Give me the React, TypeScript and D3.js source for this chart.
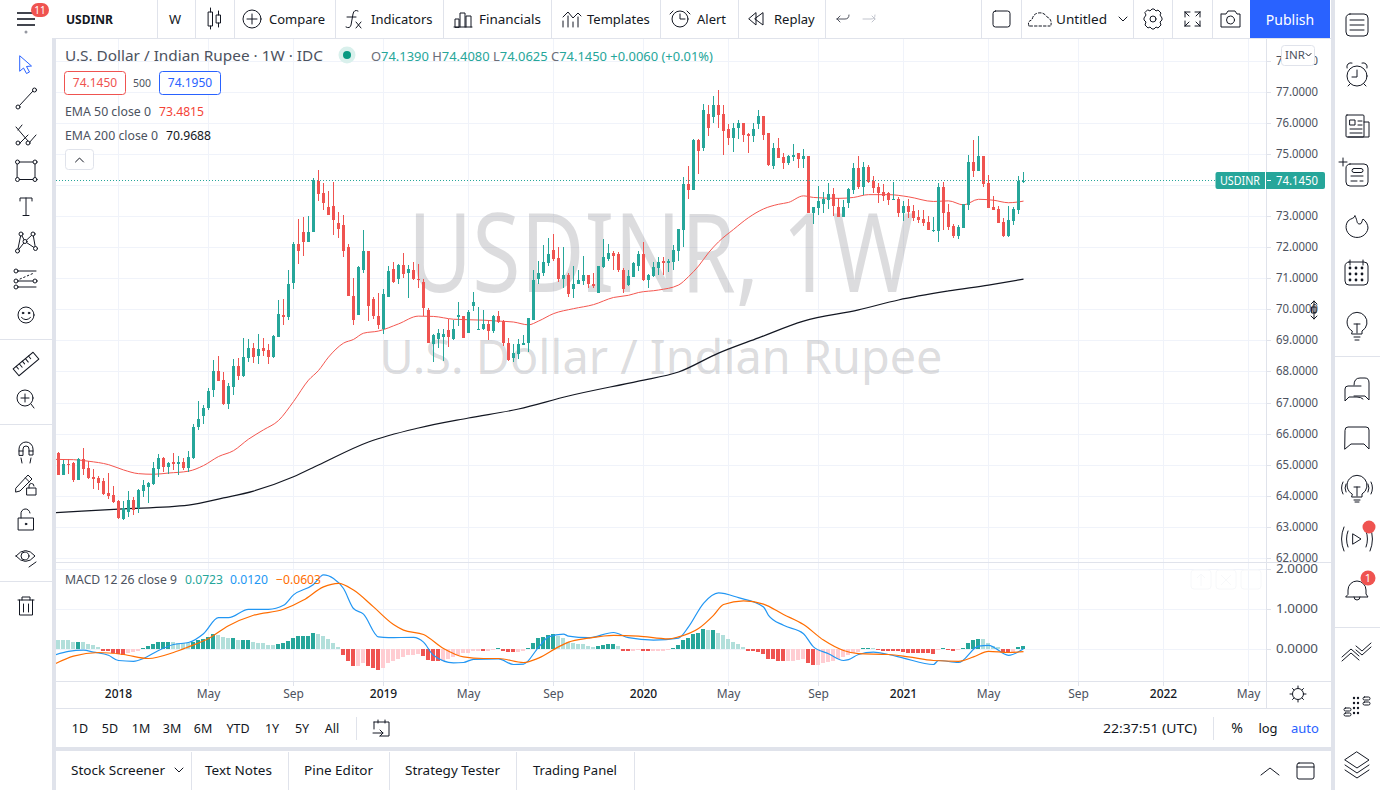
import React from 'react';
import * as d3 from 'd3';

const opens = [65.37,64.67,65.03,65.06,64.51,65.17,64.90,64.61,64.57,64.48,64.09,64.03,63.83,63.26,63.48,63.87,63.60,64.16,64.28,64.38,64.86,65.22,64.93,65.09,65.02,65.09,64.90,65.22,66.21,66.57,66.83,67.40,68.02,67.73,66.95,67.50,68.18,67.85,68.43,68.75,68.50,68.75,68.69,68.47,69.11,69.83,69.74,70.86,72.09,72.50,72.15,72.50,74.12,73.73,73.28,73.34,72.79,72.70,71.99,70.44,69.83,71.28,71.89,70.32,69.77,69.38,70.41,71.31,70.96,71.44,71.18,71.28,70.99,70.89,69.99,68.87,69.03,69.12,69.32,69.03,69.74,69.77,69.25,70.12,69.32,69.35,69.54,69.29,69.80,69.61,68.93,68.42,68.55,68.84,68.93,69.67,70.99,71.16,71.48,71.90,71.64,70.99,71.09,70.64,70.80,70.90,71.09,70.83,70.54,71.35,71.61,71.80,71.77,71.28,70.77,71.03,71.38,71.77,70.93,71.06,71.32,71.57,71.48,71.51,71.86,72.54,74.02,73.83,75.44,75.18,76.27,76.18,76.56,76.27,75.79,75.50,75.82,75.98,75.63,75.57,75.95,76.21,75.66,74.61,75.19,74.90,74.71,74.90,75.03,74.83,74.93,73.10,73.26,73.39,73.51,73.71,73.29,72.97,73.42,73.84,74.54,73.93,74.58,74.13,73.93,73.77,73.74,73.51,73.55,73.10,73.32,73.16,72.97,72.90,72.81,72.52,72.52,73.93,73.13,72.68,72.36,72.62,73.35,74.74,74.45,74.93,74.06,73.29,73.23,72.81,72.36,72.84,73.19,74.139];
const highs = [65.40,65.15,65.17,65.07,65.21,65.54,65.11,64.86,64.64,64.58,64.73,64.32,63.87,63.84,64.16,63.97,64.22,64.51,64.45,65.09,65.35,65.25,65.09,65.38,65.28,65.22,65.43,66.31,67.05,66.92,67.47,68.37,68.50,67.98,67.63,68.40,68.43,69.08,69.04,68.92,69.20,69.08,68.88,69.17,70.30,70.32,71.25,72.15,72.89,72.96,72.99,74.24,74.47,74.05,73.82,74.11,73.12,73.05,72.09,71.02,71.38,72.54,71.89,70.38,70.51,70.64,71.38,71.51,71.47,71.80,71.41,71.51,71.47,70.96,70.03,69.19,69.35,69.35,69.70,69.67,70.25,69.77,69.99,70.57,70.06,69.99,69.64,69.83,69.96,69.64,69.06,68.87,69.03,69.16,69.71,71.25,71.54,72.06,72.28,72.41,71.99,71.99,71.16,71.38,71.25,71.73,71.09,71.16,71.38,72.25,72.09,71.86,71.83,71.32,71.28,71.51,71.86,72.15,71.12,71.51,71.67,71.67,71.61,72.06,72.60,74.25,74.60,75.47,75.47,76.60,76.56,76.88,77.05,76.56,75.95,75.98,76.08,75.98,75.66,75.98,76.43,76.21,75.66,75.35,75.51,75.03,74.96,75.32,75.03,75.16,74.93,73.29,73.97,73.77,74.06,73.90,73.58,73.51,73.90,74.71,74.93,74.74,74.64,74.29,74.06,74.03,73.77,74.09,73.61,73.48,73.55,73.35,73.19,73.19,73.00,72.97,74.06,74.09,73.39,72.74,72.71,73.39,74.96,75.45,75.57,74.93,74.32,73.64,73.32,72.93,73.32,73.29,74.29,74.408];
const lows = [64.68,64.67,64.70,64.45,64.51,64.67,64.54,64.21,64.19,64.01,63.90,63.76,63.26,63.22,63.32,63.38,63.45,63.96,63.77,64.35,64.61,64.77,64.69,64.83,64.67,64.83,64.77,65.18,66.12,66.31,66.76,67.18,67.69,66.92,66.79,67.24,67.73,67.82,68.30,68.27,68.24,68.50,68.24,68.43,69.11,69.48,69.67,70.64,71.47,71.70,72.15,72.50,73.47,73.21,73.02,72.38,72.31,71.67,70.44,69.51,69.83,71.18,69.61,69.70,69.38,69.19,70.41,70.86,70.83,71.02,70.35,70.93,70.67,69.77,68.90,68.29,68.74,68.35,68.80,69.00,69.45,69.09,69.25,69.96,69.32,69.32,69.00,69.25,69.55,68.83,68.35,68.29,68.39,68.84,68.64,69.67,70.83,71.06,71.38,71.57,70.87,70.67,70.38,70.35,70.80,70.77,70.70,70.67,70.54,71.32,71.57,71.28,71.19,70.51,70.74,71.03,71.22,70.90,70.67,71.03,71.09,71.09,71.19,71.25,71.54,72.02,73.54,73.83,74.34,75.08,75.57,75.98,75.85,74.95,75.28,75.05,75.47,75.40,75.02,75.40,75.79,75.44,74.60,74.51,74.87,74.51,74.64,74.77,74.54,74.54,73.10,72.74,73.03,73.10,73.23,73.00,72.97,72.97,73.26,73.71,73.87,73.68,74.06,73.74,73.42,73.48,73.35,73.51,72.97,72.84,72.93,72.84,72.77,72.67,72.55,72.48,72.16,72.55,72.55,72.29,72.26,72.62,73.19,74.26,74.45,73.93,73.26,73.19,72.77,72.32,72.32,72.71,73.06,74.0625];
const closes = [64.68,65.02,64.99,64.51,65.17,64.86,64.57,64.54,64.42,64.06,64.00,63.80,63.29,63.61,63.87,63.54,64.19,64.35,64.41,64.90,65.22,64.93,65.06,65.02,65.09,64.90,65.25,66.21,66.47,66.83,67.37,68.02,67.69,66.95,67.53,68.18,67.85,68.47,68.75,68.47,68.72,68.66,68.47,69.14,69.85,69.74,70.80,72.09,71.89,72.18,72.50,74.15,73.70,73.41,73.05,72.86,72.60,71.86,70.44,69.64,71.35,71.89,70.09,69.77,69.48,70.48,71.22,70.89,71.44,71.12,71.31,70.96,70.96,70.03,68.93,69.16,69.25,69.19,69.12,69.35,69.83,69.09,69.90,70.25,69.35,69.54,69.29,69.80,69.58,68.90,68.38,68.58,68.87,68.90,69.71,70.93,71.16,71.51,71.77,71.61,70.99,71.09,70.48,70.83,70.93,71.09,70.80,70.74,71.38,71.67,71.80,71.73,71.25,70.64,71.06,71.48,71.77,70.93,71.09,71.35,71.51,71.48,71.54,71.90,72.57,74.02,73.83,75.44,75.11,76.43,75.85,76.56,76.24,75.73,75.50,75.85,75.98,75.60,75.57,75.79,76.21,75.60,74.63,75.19,74.87,74.71,74.93,74.96,74.83,74.93,73.10,73.29,73.48,73.55,73.71,73.32,72.97,73.29,73.87,74.54,73.93,74.58,74.09,73.90,73.74,73.64,73.51,73.55,73.10,73.32,73.13,72.93,72.87,72.77,72.55,72.55,73.93,73.10,72.65,72.36,72.65,73.39,74.74,74.45,74.93,74.03,73.26,73.19,72.77,72.36,72.87,73.23,74.13,74.145];

const ema50Weeks = [-1,3,6,10,13,16,19,22,26,29,32,35,38,41,44,47,50,52,54,57,59,61,64,68,72,75,79,85,88,91,94,96,99,103,107,111,114,116,120,124,126,128,130,132,135,138,141,144,146,149,151,156,159,162,166,170,175,178,181,184,187,190,193];
const ema50Values = [65.17,65.16,65.11,65.00,64.83,64.71,64.69,64.73,64.79,64.97,65.26,65.45,65.82,66.12,66.42,67.03,67.72,68.03,68.46,68.91,69.03,69.23,69.30,69.53,69.78,69.77,69.68,69.65,69.62,69.59,69.50,69.62,69.86,70.02,70.15,70.38,70.45,70.54,70.62,70.78,71.05,71.39,71.82,72.17,72.57,72.95,73.23,73.38,73.44,73.65,73.60,73.57,73.60,73.69,73.69,73.62,73.47,73.49,73.36,73.54,73.51,73.43,73.4815];
const ema200Weeks = [-1,12,26,33,39,47,52,62,72,82,92,102,116,124,132,140,149,160,168,178,186,193];
const ema200Values = [63.45,63.57,63.70,63.93,64.15,64.61,64.99,65.73,66.18,66.50,66.79,67.21,67.69,67.98,68.59,69.08,69.62,69.98,70.30,70.59,70.78,70.9688];

const histogram = [.235,.23,.225,.19,.195,.18,.13,.10,.07,-.03,-.04,-.08,-.11,-.13,-.08,-.07,-.03,.03,.08,.13,.18,.185,.19,.18,.17,.165,.16,.19,.23,.27,.32,.38,.37,.30,.28,.285,.23,.235,.24,.19,.17,.15,.12,.10,.13,.15,.20,.29,.33,.335,.34,.40,.39,.33,.25,.15,.05,-.15,-.28,-.42,-.41,-.35,-.42,-.46,-.52,-.46,-.33,-.29,-.23,-.18,-.15,-.13,-.12,-.17,-.27,-.29,-.30,-.28,-.23,-.18,-.13,-.10,-.08,-.04,-.03,-.04,-.03,-.005,.04,-.03,-.06,-.07,-.06,-.04,.04,.17,.28,.32,.37,.375,.33,.28,.18,.15,.13,.125,.08,.05,.08,.10,.13,.135,.08,-.03,-.035,-.03,-.025,-.04,-.05,-.04,-.035,-.03,-.025,.04,.10,.23,.28,.38,.42,.50,.48,.485,.42,.35,.25,.18,.13,.05,-.04,-.05,-.07,-.11,-.23,-.25,-.28,-.30,-.29,-.28,-.275,-.25,-.35,-.40,-.39,-.35,-.32,-.30,-.25,-.20,-.13,-.10,-.07,.04,.045,.04,-.025,-.03,-.04,-.045,-.05,-.06,-.08,-.085,-.09,-.095,-.10,-.12,-.02,.04,-.025,-.03,-.025,.04,.17,.23,.27,.25,.17,.08,.05,-.07,-.075,-.07,.05,.0723];

const macdWeeks = [-1,2,5,7,10,12,15,17,20,23,26,29,32,34,38,42,45,47,51,53,55,57,59,61,64,66,71,73,75,79,81,83,88,91,93,96,98,101,102,106,111,114,119,124,126,129,132,136,141,142,145,149,151,154,157,158,160,163,166,169,175,176,180,184,186,190,193];
const macdValues = [-.15,-.05,-.02,-.07,-.15,-.28,-.30,-.23,-.03,.12,.17,.39,.79,.79,1.00,1.00,1.10,1.36,1.62,1.86,1.77,1.52,1.02,.88,.31,.29,.30,.18,-.15,-.34,-.33,-.25,-.24,-.38,-.37,.05,.31,.38,.33,.29,.42,.29,.23,.28,.56,1.15,1.41,1.29,1.06,.85,.60,.39,.06,-.11,-.28,-.26,-.13,-.07,-.13,-.22,-.38,-.28,-.33,.08,.10,-.15,.012];
const signalWeeks = [-1,3,8,13,18,23,26,30,34,39,45,49,53,56,59,63,67,69,73,77,81,85,88,93,96,100,102,106,111,116,122,124,128,131,133,137,141,145,149,153,157,160,166,170,175,180,183,186,190,193];
const signalValues = [-.38,-.17,-.08,-.13,-.23,-.08,.06,.27,.59,.85,1.00,1.23,1.56,1.65,1.48,1.06,.62,.48,.37,.02,-.19,-.23,-.23,-.33,-.22,.06,.18,.28,.35,.33,.26,.31,.52,.85,1.12,1.21,1.13,.87,.62,.23,-.03,-.11,-.13,-.19,-.28,-.30,-.19,-.05,-.08,-.0603];

const priceTicks = d3.range(62, 79);
const priceLabels = priceTicks.filter((p) => p !== 74);
const macdTicks = [0, 1, 2];
const timeTicks: [number, string][] = [[12,'2018'],[30,'May'],[47,'Sep'],[65,'2019'],[82,'May'],[99,'Sep'],[117,'2020'],[134,'May'],[152,'Sep'],[169,'2021'],[186,'May'],[204,'Sep'],[221,'2022'],[238,'May']];
const ranges: [string, number][] = [['1D',80],['5D',110],['1M',141],['3M',172],['6M',203],['YTD',238],['1Y',272],['5Y',302],['All',332]];
const tabs: [string, number, number][] = [['Stock Screener',71,94],['Text Notes',205,67],['Pine Editor',304,69],['Strategy Tester',405,95],['Trading Panel',533,84]];
const tabSeps = [191,288,389,516,634];
const topSeps = [157,195,234,335,443,551,660,738,825,981,1021,1133,1172,1212];

const UP = '#26a69a', DOWN = '#ef5350', INK = '#131722', LINE = '#e0e3eb', GRID = '#f0f3fa', AXIS = '#4c525e';
const WATERMARK = 'rgba(140,140,145,0.3)';
const FONT = '"Noto Sans", "Open Sans", sans-serif';

const x = d3.scaleLinear().domain([0, 193]).range([58.5, 1023.5]);
const y = d3.scaleLinear().domain([62, 77]).range([557.85, 91.8]);
const m = d3.scaleLinear().domain([0, 2]).range([649.3, 569.3]);

const lineOf = (scale: d3.ScaleLinear<number, number>, weeks: number[], vals: number[]) =>
  d3.line<number>().x((_, i) => x(weeks[i])).y((v) => scale(v)).curve(d3.curveMonotoneX)(vals) as string;

const histColor = (v: number, i: number) => {
  const prev = i > 0 ? histogram[i - 1] : v + 1;
  if (v >= 0) return prev < v ? UP : '#b2dfdb';
  return prev < v ? '#ffcdd2' : DOWN;
};

const T = ({ x: tx, y: ty, s = 13, c = INK, a = 'start', w = 400, children, len }: any) => (
  <text x={tx} y={ty} fontSize={s} fill={c} textAnchor={a} fontWeight={w} fontFamily={FONT}
    {...(len ? { textLength: len, lengthAdjust: 'spacingAndGlyphs' } : {})}>{children}</text>
);

const Ico = ({ children, x: ix = 0, y: iy = 0, c = INK, w = 1 }: any) => (
  <g transform={`translate(${ix},${iy})`} fill="none" stroke={c} strokeWidth={w} strokeLinecap="round" strokeLinejoin="round">{children}</g>
);
const Dot = ({ x: cx, y: cy, r = 2 }: any) => <circle cx={cx} cy={cy} r={r} fill="#fff" />;

function LeftBar() {
  return (
    <g>
      <g stroke={INK} strokeWidth={1.6}>
        <line x1={17} x2={35} y1={13} y2={13} /><line x1={17} x2={35} y1={19} y2={19} /><line x1={17} x2={35} y1={25} y2={25} />
      </g>
      <circle cx={26} cy={32} r={1.5} fill="#9598a1" />
      <rect x={31} y={3} width={18} height={14} rx={7} fill={DOWN} />
      <T x={40} y={14} s={10} c="#fff" a="middle">11</T>
      <Ico c="#2962ff"><path d="M20 56 L31.5 66 L26.5 66.5 L29.5 72 L26.5 73.5 L23.5 68 L20 71 Z" /></Ico>
      <Ico>
        <line x1={19.5} y1={105.5} x2={33} y2={91} /><Dot x={18} y={107} /><Dot x={34.5} y={90} />
        <line x1={16} y1={127} x2={28} y2={141} /><line x1={22} y1={125} x2={18} y2={130} /><line x1={28} y1={135} x2={20} y2={143} /><line x1={36} y1={135} x2={29} y2={143} />
        <Dot x={18} y={143} /><Dot x={28} y={143} />
        <rect x={17.5} y={162} width={17.5} height={17.5} /><Dot x={17.5} y={162} /><Dot x={35} y={162} /><Dot x={17.5} y={179.5} /><Dot x={35} y={179.5} />
        <path d="M20 201 V198 H32 V201 M26 198 V215 M23 215.5 H29" />
        <path d="M21 234 L25 241.5 L33 234 L35.5 248.5 M25 241.5 L35.5 248.5 M21 234 L17.5 251 L25 241.5" />
        <Dot x={21} y={234} /><Dot x={33} y={234} /><Dot x={25} y={241.5} /><Dot x={35.5} y={248.5} /><Dot x={17.5} y={251} />
        <path d="M18 271 H36 M18 281 H33 M18 287 H36" /><path d="M20 279 L34 273" strokeDasharray="1.5 2.5" />
        <Dot x={16} y={271} /><Dot x={16} y={281} /><Dot x={16} y={287} /><Dot x={35} y={281} />
        <circle cx={26} cy={315} r={8} /><circle cx={23} cy={313} r={0.8} fill={INK} /><circle cx={29} cy={313} r={0.8} fill={INK} /><path d="M21.5 317.5 Q26 322 30.5 317.5" />
        <g transform="translate(26,364) rotate(-40)"><rect x={-13} y={-4.5} width={26} height={9} /><path d="M-9 -4.5 V-1 M-5 -4.5 V0 M-1 -4.5 V-1 M3 -4.5 V0 M7 -4.5 V-1" /></g>
        <circle cx={25} cy={398} r={8} /><path d="M31 404 L34 408 M21 398 H29 M25 394 V402" />
        <path d="M19 455 V449 A7 7 0 0 1 33 449 V455 H29 V449 A3 3 0 0 0 23 449 V455 Z M19 451 H23 M29 451 H33 M21 458 L22 463 M31 458 L30 463" />
        <path d="M16 488 L28 475 L32 479 L20 491 L16 492 Z M25.5 478 L29.5 482" /><rect x={27} y={488} width={9} height={7} /><path d="M29 488 V486 A2.5 2.5 0 0 1 34 486" />
        <rect x={18.5} y={518} width={15} height={12} /><path d="M21 518 V514 A4.5 4.5 0 0 1 30 513" /><circle cx={26} cy={524} r={0.8} fill={INK} />
        <path d="M16 556 Q25.5 545 35 556 Q25.5 567 16 556 Z" /><circle cx={25} cy={556} r={4} /><path d="M29 567 L36 562" />
        <path d="M18 600 H34 M22 600 V597 H30 V600 M19.5 600 V615 H32.5 V600 M23.5 604 V612 M28.5 604 V612" />
      </Ico>
      <g stroke={LINE}><line x1={0} x2={52} y1={339.5} y2={339.5} /><line x1={0} x2={52} y1={424.5} y2={424.5} /><line x1={0} x2={52} y1={581.5} y2={581.5} /></g>
    </g>
  );
}

function RightBar() {
  const cx = 1357;
  return (
    <g>
      <Ico x={cx}>
        <rect x={-11} y={14} width={22} height={22} rx={4} /><path d="M-7 20 H7 M-7 25 H7 M-7 30 H7" />
        <circle cx={0} cy={76} r={10} /><path d="M0 70 V77 H-5 M-10 68 A4 4 0 0 1 -5 63 M10 68 A4 4 0 0 0 5 63 M-7 84 L-9 86 M7 84 L9 86" />
        <rect x={-11} y={115} width={18} height={22} rx={1} /><path d="M7 122 H12 V137 H-9 M-7 120 H-2 V125 H-7 Z M1 121 H5 M1 125 H5 M-7 129 H5 M-7 133 H5" />
        <rect x={-11} y={164} width={22} height={22} rx={4} /><path d="M-6 176 H6 M-6 181 H0 M3 181 H6" /><rect x={-5} y={168.5} width={11} height={4} rx={2} />
        <path d="M-14 158 V166 M-18 162 H-10" />
        <path d="M-2 216 C1 221 -1 224 3 224 C5 224 5 220 6 219 C9 221 11 225 11 228 A11 10.5 0 1 1 -9 221 C-6 218 -3 219 -2 216 Z" />
        <rect x={-12} y={262} width={23} height={23} rx={4} /><path d="M-7 260 V265 M6 260 V265" />
        <g fill={INK} stroke="none">{[-7,-1,5].flatMap((dx) => [268,274,280].map((dy) => <circle key={`${dx}-${dy}`} cx={dx} cy={dy} r={1.4} />))}</g>
        <path d="M-5 331 A10 10 0 1 1 5 331 V334 H-5 Z M-3 337 H3 M-2 340 H2 M0 333 V324 M-3 324 H3" />
        <path d="M-3 385 Q-3 378 3 378 H8 Q12 378 12 383 V400 L8 396 H-3" />
        <path d="M4 386 H-9 Q-12 386 -12 389 V401 L-8 397 H0 Q4 397 6 399" />
        <path d="M-12 430 Q-12 427 -9 427 H9 Q12 427 12 430 V449 L7 444 H-6 L-12 449 Z" />
        <path d="M-5 494 A10 10 0 1 1 5 494 V497 H-5 Z M-3 500 H3 M-2 502 H2 M0 496 V487 M-3 487 H3 M-14 482 Q-17 488 -14 494 M14 482 Q17 488 14 494 M-11 484 Q-13 488 -11 492 M11 484 Q13 488 11 492" />
        <path d="M-4 534 L4 539 L-4 544 Z M-9 531 Q-12 539 -9 547 M9 531 Q12 539 9 547 M-13 527 Q-18 539 -13 551 M13 527 Q18 539 13 551" />
        <path d="M-9 594 V590 A9 9 0 0 1 9 590 V594 L11 597 H-11 Z M-3 597 A3 3 0 0 0 3 597" />
        <path d="M-15 661 L-6 653 L2 660 M-15 657 L-6 649 L2 656 M-1 650 L5 655 L14 647 M-1 646 L5 651 L14 643" />
        <rect x={-13} y={708} width={7} height={3} rx={1.5} /><rect x={-13} y={713} width={7} height={3} rx={1.5} /><rect x={6} y={697} width={7} height={3} rx={1.5} /><rect x={6} y={702} width={7} height={3} rx={1.5} />
        <g fill={INK} stroke="none">{[-3,1].flatMap((dx) => [698,703,708,713].map((dy) => <circle key={`${dx}-${dy}`} cx={dx} cy={dy} r={1.2} />))}</g>
        <path d="M0 752 L12 760 L0 768 L-12 760 Z M-12 765 L0 773 L12 765 M-12 770 L0 778 L12 770" />
      </Ico>
      <circle cx={1369} cy={527} r={6.5} fill={DOWN} />
      <circle cx={1368} cy={578} r={7.5} fill={DOWN} />
      <T x={1368} y={582} s={11} c="#fff" a="middle">1</T>
      <g stroke={LINE}><line x1={1335} x2={1380} y1={356.5} y2={356.5} /><line x1={1335} x2={1380} y1={627.5} y2={627.5} /></g>
    </g>
  );
}

function TopBar() {
  return (
    <g>
      {topSeps.map((sx) => <line key={sx} x1={sx + 0.5} x2={sx + 0.5} y1={0} y2={38} stroke={LINE} />)}
      <T x={66} y={24} s={12.5} w={700} len={47}>USDINR</T>
      <T x={175} y={24} s={13} a="middle">W</T>
      <Ico>
        <rect x={208.5} y={12} width={4} height={14} /><path d="M210.5 8 V12 M210.5 26 V29" />
        <rect x={216.5} y={15} width={4} height={8} /><path d="M218.5 11 V15 M218.5 23 V27" />
        <circle cx={252} cy={19} r={9} /><path d="M247 19 H257 M252 14 V24" />
        <path d="M358 11 Q354 9 353 14 L351 25 Q350 29 346 27 M347 17 H356 M356 22 L361 28 M361 22 L356 28" />
        <path d="M455 27 V19 H459 V27 Z M460 27 V13 H465 V27 M466 27 V16 H471 V27 M454 27 H472" />
        <path d="M563 17 L568 12 L573 18 L578 13 L581 16 M563 27 V21 M568 27 V16 M573 27 V22 M578 27 V17" />
        <circle cx={680} cy={19} r={8} /><path d="M680 14 V19 H685 M673 11 L670 14 M687 11 L690 14" />
        <path d="M763 13 V25 L755 19 Z M756 13 V25 L749 19 Z" />
      </Ico>
      <Ico c="#50535e"><path d="M837 19 H845 Q849 19 849 15 M837 19 L840 16 M837 19 L840 22" /></Ico>
      <Ico c="#c1c4cd"><path d="M863 19 H871 Q875 19 875 15 M875 19 L872 16 M875 19 L872 22" transform="translate(0,0)" /></Ico>
      <Ico>
        <rect x={993} y={11} width={17} height={16} rx={2.5} />
        <path d="M1029 26 Q1027 21 1032 20 Q1033 14 1038 13 Q1044 12 1047 17 Q1052 19 1051 25" strokeDasharray="2.5 2" /><path d="M1030 26 H1050" strokeDasharray="2.5 2" />
        <path d="M1119 17 L1123 21 L1127 17" />
        <circle cx={1153} cy={19} r={3} /><path d="M1148 10 L1150 11 L1152 9 H1154 L1156 11 L1158 10 L1161 13 L1160 15 L1162 18 V20 L1160 22 L1161 25 L1158 28 L1156 27 L1154 29 H1152 L1150 27 L1148 28 L1145 25 L1146 22 L1144 20 V18 L1146 15 L1145 13 Z" />
        <path d="M1185 12 H1190 M1185 12 V17 M1200 12 H1195 M1200 12 V17 M1185 26 H1190 M1185 26 V21 M1200 26 H1195 M1200 26 V21 M1185 12 L1189 16 M1200 12 L1196 16 M1185 26 L1189 22 M1200 26 L1196 22" />
        <path d="M1222 14 H1226 L1228 11 H1235 L1237 14 H1240 V27 H1221 V14 Z" /><circle cx={1230.5} cy={20} r={4} />
      </Ico>
      <T x={269} y={24} s={13}>Compare</T>
      <T x={371} y={24} s={13}>Indicators</T>
      <T x={479} y={24} s={13} len={62}>Financials</T>
      <T x={587} y={24} s={13}>Templates</T>
      <T x={697} y={24} s={13}>Alert</T>
      <T x={774} y={24} s={13}>Replay</T>
      <T x={1056} y={24} s={13} len={51}>Untitled</T>
      <rect x={1250} y={0} width={80} height={38} fill="#2962ff" />
      <T x={1290} y={25} s={14} c="#fff" a="middle">Publish</T>
    </g>
  );
}

function BottomBars() {
  return (
    <g>
      {ranges.map(([t, rx]) => <T key={t} x={rx} y={733} s={12.5} a="middle">{t}</T>)}
      <line x1={356.5} x2={356.5} y1={717} y2={740} stroke={LINE} />
      <Ico><path d="M374 722 H389 V736 H380 M374 722 V729 M378 720 V723 M385 720 V723 M373 733 H383 M380 730 L383 733 L380 736" /></Ico>
      <T x={1103} y={733} s={13} len={94}>22:37:51 (UTC)</T>
      <line x1={1213.5} x2={1213.5} y1={717} y2={740} stroke={LINE} />
      <T x={1237} y={733} s={14} a="middle">%</T>
      <T x={1268} y={733} s={13} a="middle">log</T>
      <T x={1305} y={733} s={13} c="#2962ff" a="middle">auto</T>
      {tabSeps.map((sx) => <line key={sx} x1={sx + 0.5} x2={sx + 0.5} y1={752} y2={790} stroke={LINE} />)}
      {tabs.map(([t, tx, tl]) => <T key={t} x={tx} y={775} s={13} len={tl}>{t}</T>)}
      <Ico>
        <path d="M175 768 L179 772 L183 768" />
        <path d="M1261 775 L1270 768 L1279 775" />
        <rect x={1297} y={763} width={17} height={16} rx={2} /><path d="M1297 767 H1314" />
      </Ico>
    </g>
  );
}

export default function App() {
  return (
    <svg width={1380} height={790} style={{ position: 'fixed', left: 0, top: 0, background: '#fff' }} xmlns="http://www.w3.org/2000/svg">
      <defs>
        <clipPath id="mainClip"><rect x={56} y={39} width={1210} height={523} /></clipPath>
        <clipPath id="macdClip"><rect x={56} y={563} width={1210} height={118} /></clipPath>
      </defs>

      <rect x={0} y={0} width={1380} height={790} fill="#fff" />
      <rect x={52} y={39} width={4} height={751} fill={LINE} />
      <rect x={1331} y={0} width={4} height={790} fill={LINE} />
      <rect x={52} y={38} width={1279} height={1} fill={LINE} />
      <rect x={56} y={747} width={1275} height={4} fill={LINE} />
      <rect x={56} y={681} width={1275} height={1} fill={LINE} />
      <rect x={56} y={708} width={1275} height={1} fill={LINE} />

      <g stroke={GRID}>
        {timeTicks.map(([w]) => <line key={w} x1={Math.floor(x(w)) + 0.5} x2={Math.floor(x(w)) + 0.5} y1={39} y2={681} />)}
        <g clipPath="url(#mainClip)">{priceTicks.map((p) => <line key={p} x1={56} x2={1266} y1={Math.round(y(p)) + 0.5} y2={Math.round(y(p)) + 0.5} />)}</g>
        {macdTicks.map((v) => <line key={v} x1={56} x2={1266} y1={Math.round(m(v)) + 0.5} y2={Math.round(m(v)) + 0.5} />)}
      </g>

      <T x={661} y={292} s={110} c={WATERMARK} a="middle" len={506}>USDINR, 1W</T>
      <T x={661} y={374} s={48} c={WATERMARK} a="middle" len={563}>U.S. Dollar / Indian Rupee</T>

      <g clipPath="url(#mainClip)">
        <path d={lineOf(y, ema200Weeks, ema200Values)} fill="none" stroke="#131722" strokeWidth={1.2} />
        <path d={lineOf(y, ema50Weeks, ema50Values)} fill="none" stroke="#f4564f" strokeWidth={1} />
        <g shapeRendering="crispEdges">
          {closes.map((c, i) => {
            const o = opens[i];
            const col = c >= o ? UP : DOWN;
            const cx = Math.floor(x(i));
            const t = y(Math.max(o, c)), b = y(Math.min(o, c));
            return (
              <g key={i} fill={col}>
                <rect x={cx} y={y(highs[i])} width={1} height={Math.max(1, y(lows[i]) - y(highs[i]))} />
                <rect x={cx - 1} y={t} width={3} height={Math.max(1, b - t)} />
              </g>
            );
          })}
        </g>
      </g>

      <line x1={56} x2={1216} y1={y(74.145)} y2={y(74.145)} stroke={UP} strokeDasharray="1 2" />

      <g clipPath="url(#macdClip)">
        <g shapeRendering="crispEdges">
          {histogram.map((v, i) => (
            <rect key={i} x={Math.floor(x(i)) - 2} width={4} y={Math.min(m(v), m(0))} height={Math.max(1, Math.abs(m(v) - m(0)))} fill={histColor(v, i)} />
          ))}
        </g>
        <path d={lineOf(m, macdWeeks, macdValues)} fill="none" stroke="#2196f3" strokeWidth={1.2} />
        <path d={lineOf(m, signalWeeks, signalValues)} fill="none" stroke="#ff6d00" strokeWidth={1.2} />
      </g>

      <rect x={56} y={562} width={1275} height={1} fill={LINE} />
      <rect x={1266} y={39} width={1} height={669} fill={LINE} />

      {priceLabels.map((p) => (
        <g key={p}>
          <line x1={1267} x2={1271} y1={Math.round(y(p)) + 0.5} y2={Math.round(y(p)) + 0.5} stroke={LINE} />
          <T x={1276} y={y(p) + 4} s={12} c={AXIS} len={42}>{p.toFixed(4)}</T>
        </g>
      ))}
      <rect x={1267} y={563} width={64} height={1} fill="#fff" />
      {macdTicks.map((v) => (
        <g key={v}>
          <line x1={1267} x2={1271} y1={Math.round(m(v)) + 0.5} y2={Math.round(m(v)) + 0.5} stroke={LINE} />
          <T x={1276} y={m(v) + 4} s={12} c={AXIS} len={42}>{v.toFixed(4)}</T>
        </g>
      ))}
      {timeTicks.map(([w, l]) => (
        <g key={w}>
          <line x1={Math.floor(x(w)) + 0.5} x2={Math.floor(x(w)) + 0.5} y1={682} y2={686} stroke={LINE} />
          <T x={x(w)} y={698} s={12} a="middle" c={/\d/.test(l) ? INK : AXIS} w={/\d/.test(l) ? 500 : 400}>{l}</T>
        </g>
      ))}
      <Ico><circle cx={1298} cy={694} r={5.5} /><path d="M1298 686 V688 M1298 700 V702 M1290 694 H1292 M1304 694 H1306 M1292.5 688.5 L1294 690 M1302 698 L1303.5 699.5 M1303.5 688.5 L1302 690 M1294 698 L1292.5 699.5" /></Ico>

      <rect x={1215.5} y={172} width={109.5} height={17} rx={2} fill={UP} />
      <line x1={1265.5} x2={1265.5} y1={172} y2={189} stroke="#fff" />
      <line x1={1267} x2={1271} y1={180.5} y2={180.5} stroke="#fff" />
      <T x={1220} y={185} s={12} c="#fff" len={40}>USDINR</T>
      <T x={1276} y={185} s={12} c="#fff" len={42}>74.1450</T>

      <rect x={1281.5} y={45.5} width={33} height={20} rx={3} fill="#fff" stroke={LINE} />
      <T x={1285} y={59} s={11.5} c={AXIS}>INR</T>
      <Ico c={INK}><path d="M1306 53.5 L1308.5 56 L1311 53.5" /></Ico>

      <Ico c={INK} w={1}><path d="M1314 301 V319 M1311 304 L1314 301 L1317 304 M1311 316 L1314 319 L1317 316 M1312 307 H1316 V313 H1312 Z" /></Ico>
      <g fill="none" stroke="#f7f8fa">
        <rect x={1191} y={570} width={20} height={19} rx={3} /><rect x={1216} y={570} width={20} height={19} rx={3} /><rect x={1241} y={570} width={20} height={19} rx={3} />
        <path d="M1201 586 V574 M1197 578 L1201 574 L1205 578 M1221 575 L1231 585 M1231 575 L1221 585" />
      </g>

      <T x={65} y={61} s={14} c="#4c525e" len={258}>U.S. Dollar / Indian Rupee · 1W · IDC</T>
      <circle cx={347} cy={55} r={8.5} fill="#d9f0ec" />
      <circle cx={347} cy={55} r={4} fill="#089981" />
      <text x={371} y={61} fontSize={12} fontFamily={FONT} fill="#6a6d78" textLength={342} lengthAdjust="spacingAndGlyphs">O<tspan fill={UP}>74.1390</tspan> H<tspan fill={UP}>74.4080</tspan> L<tspan fill={UP}>74.0625</tspan> C<tspan fill={UP}>74.1450</tspan> <tspan fill={UP}>+0.0060 (+0.01%)</tspan></text>

      <rect x={64.5} y={71.5} width={61} height={23} rx={3} fill="#fff" stroke={DOWN} />
      <T x={95} y={87} s={12} c={DOWN} a="middle">74.1450</T>
      <T x={142} y={87} s={10.5} c={AXIS} a="middle">500</T>
      <rect x={159.5} y={71.5} width={61} height={23} rx={3} fill="#fff" stroke="#2962ff" />
      <T x={190} y={87} s={12} c="#2962ff" a="middle">74.1950</T>
      <T x={65} y={116} s={12} c="#4c525e" len={86}>EMA 50 close 0</T>
      <T x={159} y={116} s={12} c="#f44336" len={45}>73.4815</T>
      <T x={65} y={140} s={12} c="#4c525e" len={93}>EMA 200 close 0</T>
      <T x={166} y={140} s={12} c={INK} len={45}>70.9688</T>
      <rect x={65.5} y={149.5} width={28} height={20} rx={3} fill="#fff" stroke={LINE} />
      <Ico><path d="M75.5 162 L79.5 158 L83.5 162" /></Ico>

      <T x={65} y={584} s={12} c="#4c525e" len={112}>MACD 12 26 close 9</T>
      <T x={185} y={584} s={12} c={UP} len={38}>0.0723</T>
      <T x={230} y={584} s={12} c="#2196f3" len={38}>0.0120</T>
      <T x={276} y={584} s={12} c="#ff6d00" len={45}>−0.0603</T>

      <TopBar />
      <LeftBar />
      <RightBar />
      <BottomBars />
    </svg>
  );
}
